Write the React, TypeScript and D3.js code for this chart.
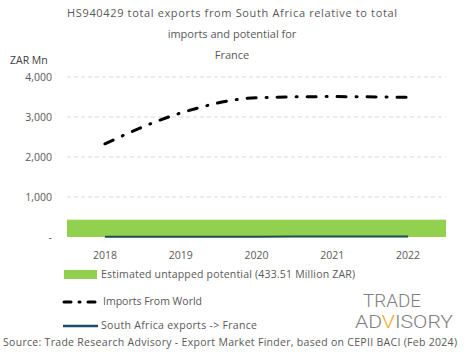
import * as d3 from 'd3';

const years = ['2018', '2019', '2020', '2021', '2022'];
const importsWorld = [2330, 3100, 3480, 3510, 3490];
const saExports = [6, 4, 8, 10, 10];
const untapped = 433.51;
const yTicks = [0, 1000, 2000, 3000, 4000];

const width = 465;
const height = 359;
const margin = { top: 77, left: 67, bottom: 122, right: 19 };
const font = "'Open Sans', sans-serif";
const textColor = '#595959';

function App() {
  const x = d3
    .scaleBand()
    .domain(years)
    .range([margin.left, width - margin.right]);
  const y = d3
    .scaleLinear()
    .domain([0, 4000])
    .range([height - margin.bottom, margin.top]);

  const cx = (d: string) => (x(d) || 0) + x.bandwidth() / 2;

  const line = d3
    .line<number>()
    .x((_, i) => cx(years[i]))
    .y((d) => y(d))
    .curve(d3.curveMonotoneX);

  const fmt = d3.format(',');

  return (
    <svg
      width={width}
      height={height}
      style={{ position: 'absolute', left: 0, top: 0, fontFamily: font }}
    >
      <g fill={textColor} fontSize={11} textAnchor="middle">
        <text x={232} y={17} textLength={330}>HS940429 total exports from South Africa relative to total</text>
        <text x={232} y={38}>imports and potential for</text>
        <text x={232} y={59}>France</text>
      </g>
      <text x={10} y={64} fontSize={10.5} fill="#404040">ZAR Mn</text>

      {yTicks.map((t) => (
        <g key={t}>
          {t > 0 && (
            <line
              x1={margin.left}
              x2={width - margin.right}
              y1={y(t)}
              y2={y(t)}
              stroke="#d9d9d9"
              strokeDasharray="4 3"
            />
          )}
          <text
            x={52}
            y={y(t) + 4}
            textAnchor="end"
            fontSize={10.5}
            fill={textColor}
          >
            {t === 0 ? '-' : fmt(t)}
          </text>
        </g>
      ))}

      <rect
        x={margin.left}
        width={width - margin.right - margin.left}
        y={y(untapped)}
        height={y(0) - y(untapped)}
        fill="#92d050"
      />

      <path
        d={line(saExports) || ''}
        fill="none"
        stroke="#1b4f4a"
        strokeWidth={2}
      />
      <path
        d={line(importsWorld) || ''}
        fill="none"
        stroke="#000"
        strokeWidth={3}
        strokeDasharray="9 10 1 10"
        strokeLinecap="round"
      />

      {years.map((yr) => (
        <text
          key={yr}
          x={cx(yr)}
          y={259}
          textAnchor="middle"
          fontSize={10.5}
          fill={textColor}
        >
          {yr}
        </text>
      ))}

      <g fontSize={10.5} fill={textColor}>
        <rect x={64} y={270} width={33} height={9} fill="#92d050" />
        <text x={101} y={278} textLength={254}>Estimated untapped potential (433.51 Million ZAR)</text>
        <line
          x1={64}
          x2={98}
          y1={302}
          y2={302}
          stroke="#000"
          strokeWidth={3}
          strokeDasharray="7 8 1 8"
          strokeLinecap="round"
        />
        <text x={103} y={305} textLength={99}>Imports From World</text>
        <line x1={63} x2={98} y1={326} y2={326} stroke="#1f4e6b" strokeWidth={2.5} />
        <text x={101} y={329} textLength={156}>South Africa exports -&gt; France</text>
        <text x={3} y={346} textLength={454}>
          Source: Trade Research Advisory - Export Market Finder, based on CEPII BACI (Feb 2024)
        </text>
      </g>

      <g fontFamily="'Roboto', sans-serif" fontWeight={300} fill="#7f7f7f" fontSize={18}>
        <text x={392} y={307} textAnchor="middle" textLength={58} lengthAdjust="spacingAndGlyphs">
          TRADE
        </text>
        <text x={404} y={328} textAnchor="middle" textLength={98} lengthAdjust="spacingAndGlyphs">
          AD<tspan fill="#f5a623">V</tspan>ISORY
        </text>
      </g>
    </svg>
  );
}

export default App;
